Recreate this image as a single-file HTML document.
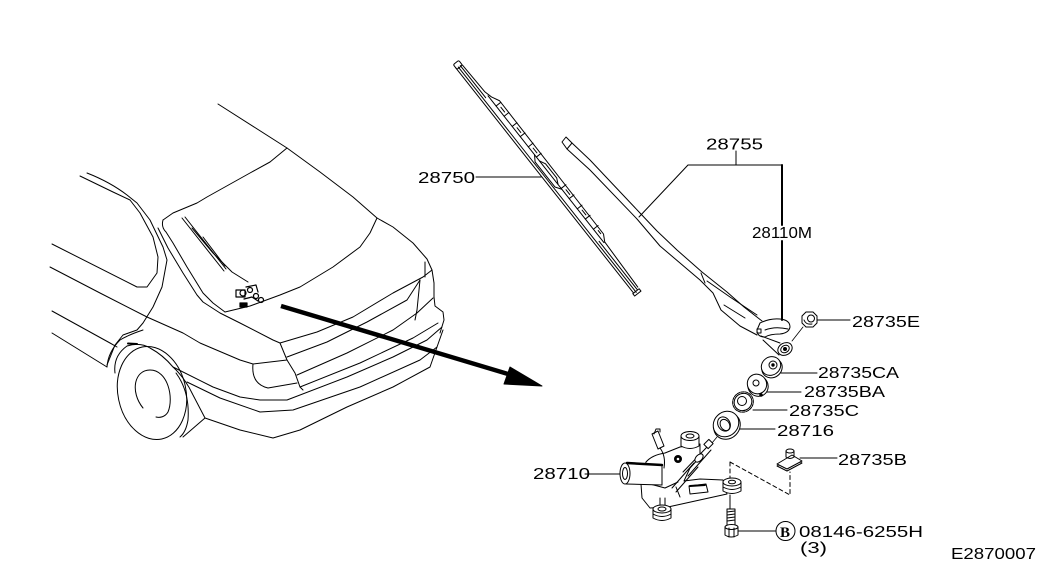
<!DOCTYPE html>
<html><head><meta charset="utf-8"><style>
html,body{margin:0;padding:0;background:#fff;}
svg{display:block;}
text{font-family:"Liberation Sans",sans-serif;font-size:16px;fill:#000;}
</style></head><body>
<svg width="1045" height="572" viewBox="0 0 1045 572" xmlns="http://www.w3.org/2000/svg">
<rect width="1045" height="572" fill="#fff"/>
<g fill="none" stroke="#000" stroke-width="1" stroke-linejoin="round" stroke-linecap="round">
<!-- ===== CAR ===== -->
<path d="M218,104 L287,148 L320,172 L353,197 L377,218 L393,227 L413,243 L427,259 L432,270 L434,283 L434,297 L435,306 L443,312 L444,320 L440,333"/>
<!-- rear window -->
<path d="M163,220 L173,213 L197,203 L207,197 L250,173 L270,162 L287,148"/>
<path d="M163,220 Q161,227 166,232 L173,243 L187,267 L203,293 L213,303 L225,312"/>
<path d="M225,312 L250,306 L280,295 L300,287 L333,267 L360,247 L370,233 L377,218"/>
<!-- outer line of window to trunk corner -->
<path d="M158,228 L168,248 L183,273 L197,295 L203,302 L220,313 L240,323 L273,340 L280,343"/>
<!-- trunk rear edges -->
<path d="M280,343 L317,332 L353,317 L393,293 L423,277 L432,270"/>
<path d="M287,357 L327,342 L367,322 L407,300 L420,280"/>
<path d="M425,262 L425,277"/>
<path d="M420,280 L417,310 L415,320"/>
<path d="M297,375 L347,353 L393,330 L417,313 L433,298"/>
<path d="M300,387 L360,363 L413,338 L438,323"/>
<path d="M280,343 L287,360 L295,373 L300,387 L303,390"/>
<!-- taillight -->
<path d="M253,364 Q251,384 268,388 L297,383"/>
<path d="M253,364 L287,360"/>
<!-- bumper -->
<path d="M173,367 L213,387 L240,397 L260,400 L287,400 L347,377 L393,357 L427,340 L442,327"/>
<path d="M187,382 L220,398 L260,412 L293,410 L360,387 L420,360 L437,347"/>
<path d="M205,418 L240,430 L273,438 L300,430 L347,407 L393,387 L430,367 L437,347 L443,330"/>
<!-- C pillar / side window -->
<path d="M87,173 Q110,182 127,195 L137,203 L150,220 L163,247 L167,260 L162,287 L153,307 L143,323 L137,330 L123,335 L115,345 L107,365"/>
<path d="M80,176 L113,192 L130,200 L140,213 L153,237 L158,257 L157,273 L147,287 L137,287 L52,244"/>
<path d="M50,267 L100,293 L147,317 L183,333 L200,343 L240,360 L253,364"/>
<path d="M52,311 L110,343 L117,347"/>
<path d="M52,333 L107,367"/>
<!-- wheel arch -->
<path d="M107,367 Q108,352 120,340 Q128,335 143,330"/>
<path d="M115,373 Q113,356 127,346 Q140,342 150,348 Q163,355 173,367"/>
<path d="M128,343.5 L137,344" stroke-width="2"/>
<!-- tire -->
<ellipse cx="152" cy="393" rx="34" ry="47" transform="rotate(-12 152 393)"/>
<path d="M143,408 C130,392 134,370 150,370 C168,370 174,398 168,412 C165,417 160,418 156,417"/>
<path d="M173,367 Q185,378 193,395 L205,418 L183,437"/>
<path d="M176,373 Q190,392 188,420 Q186,432 180,437"/>
<!-- small wiper on car -->
<path d="M182,218 L224,271"/>
<path d="M185,217 L226,269"/>
<path d="M192,228 L213,253 L232,272 L248,282"/>
<path d="M203,237 L225,266"/>
<g stroke-width="1.2">
<rect x="236" y="290" width="9" height="7"/>
<circle cx="243" cy="293" r="3"/>
<circle cx="250" cy="290" r="2.5"/>
<circle cx="256" cy="296" r="2.5"/>
<circle cx="261" cy="300" r="2.5"/>
<path d="M246,287 L256,285 L258,292"/>
<path d="M244,299 L252,297 L258,301"/>
<rect x="240" y="303" width="7" height="4" fill="#000"/>
</g>
<!-- big arrow -->
<path d="M281,306 L508,374" stroke-width="4.5" stroke-linecap="butt"/>
<path d="M510,367 L542,386 L504,384 Z" fill="#000"/>

<!-- ===== BLADE 28750 ===== -->
<g transform="translate(457,63) rotate(51.7)">
<rect x="-1" y="-3" width="6" height="7" rx="1.5"/>
<path d="M3,4 L290,4"/>
<path d="M4,1.5 L291,1.5"/>
<path d="M4,-1 L45,-1"/>
<path d="M228,-1 L290,-1"/>
<path d="M290,-3 L290,5 L293,5 L293,-3 Z"/>
<path d="M5,-3 L40,-4 L48,-6 L56,-10 L225,-9 L232,-5 L288,-3"/>
<path d="M45,-4 L232,-4"/>
<path d="M58,-10 L58,-4 M71,-10 L71,-4 M84,-10 L84,-4 M97,-10 L97,-4 M110,-10 L110,-4 M123,-10 L123,-4 M163,-10 L163,-4 M176,-10 L176,-4 M189,-10 L189,-4 M202,-10 L202,-4 M215,-10 L215,-4"/>
<path d="M62,-7 L68,-7 M88,-7 L94,-7 M114,-7 L120,-7 M167,-7 L173,-7 M193,-7 L199,-7 M219,-7 L223,-7"/>
<path d="M120,-4 L126,0 L158,0 L164,-4"/>
<path d="M128,-4 L134,-7 L152,-7 L158,-4"/>
</g>

<!-- ===== ARM 28755 ===== -->
<path d="M562,142 L566,137 L572,143 L567,149 Z"/>
<path d="M572,143 L590,160 L640,213 L657,231 L677,250 L702,272 L727,292 L744,307 L762,321"/>
<path d="M567,149 L590,170 L637,219 L660,246 L700,280 L713,293 L721,310 L740,326 L757,335"/>
<path d="M701,273 L705,283"/>
<path d="M707,281 L730,297 L757,315"/>
<path d="M724,305 L745,318"/>
<!-- head -->
<path d="M760,323 Q770,318 780,319 Q790,320 790,327 Q789,333 780,334 Q770,334 765,337 Q757,337 757,330 Z" fill="#fff"/>
<path d="M765,330 Q775,326 788,329"/>
<rect x="757" y="329" width="4" height="4"/>
<!-- link -->
<path d="M761,336 L780,343"/>
<path d="M763,340 L779,355"/>
<ellipse cx="785" cy="349" rx="7.5" ry="6" transform="rotate(-30 785 349)" fill="#fff"/>
<ellipse cx="785" cy="349" rx="4.5" ry="3.5" transform="rotate(-30 785 349)"/>
<circle cx="785" cy="349" r="1.5" fill="#000"/>
<path d="M803,327 L792,341" stroke-width="0.8"/>
<!-- nut 28735E -->
<path d="M806,312 L813,312 L817,316 L817,323 L813,327 L806,327 L802,323 L802,316 Z"/>
<circle cx="811" cy="318.5" r="3.5"/>
<path d="M804,320 Q806,325 812,324"/>

<!-- ===== LEADERS ===== -->
<path d="M476,177 L541,177"/>
<path d="M736,151 L736,165 M688,165 L782,165 M688,165 L639,217"/>
<path d="M782,165 L782,225 M782,241 L782,320" stroke-width="2"/>
<path d="M817,320 L850,320"/>
<path d="M781,373 L817,373"/>
<path d="M765,392 L801,392"/>
<path d="M753,410 L787,410"/>
<path d="M740,429 L775,429"/>
<path d="M800,458 L837,458"/>
<path d="M585,474 L620,474"/>
<path d="M738,531 L776,531"/>

<!-- ===== WASHERS ===== -->
<ellipse cx="772" cy="368" rx="10.5" ry="9.5" transform="rotate(-35 772 368)" fill="#fff"/>
<ellipse cx="771" cy="366" rx="10" ry="9" transform="rotate(-35 771 366)" fill="#fff"/>
<circle cx="773" cy="365" r="4"/>
<circle cx="773" cy="365" r="1.2" fill="#000"/>
<ellipse cx="758" cy="386" rx="10" ry="10.5" transform="rotate(-35 758 386)" fill="#fff"/>
<ellipse cx="757" cy="384" rx="9.5" ry="10" transform="rotate(-35 757 384)" fill="#fff"/>
<circle cx="756" cy="383" r="3"/>
<circle cx="761" cy="395" r="1.3" fill="#000"/>
<ellipse cx="743" cy="402" rx="10.5" ry="10" transform="rotate(-35 743 402)" stroke-dasharray="3,1"/>
<ellipse cx="743" cy="402" rx="9" ry="8.5" transform="rotate(-35 743 402)"/>
<circle cx="742" cy="401" r="4.5"/>
<ellipse cx="727" cy="426" rx="14" ry="12.5" transform="rotate(-45 727 426)" fill="#fff"/>
<ellipse cx="726" cy="424" rx="13.5" ry="12" transform="rotate(-45 726 424)" fill="#fff"/>
<ellipse cx="724" cy="424" rx="6" ry="7.5" transform="rotate(-30 724 424)"/>
<ellipse cx="725" cy="425" rx="4.5" ry="6" transform="rotate(-30 725 425)"/>
<path d="M717,437 L712,443" stroke-width="0.8"/>

<!-- ===== CLIP 28735B ===== -->
<path d="M777,466 L787,471 L802,463 L792,457 Z" fill="#fff"/>
<path d="M777,464 L787,469 L802,461 L792,455 Z" fill="#fff"/>
<path d="M786,457 L786,451 M794,457 L794,451"/>
<ellipse cx="790" cy="451" rx="4" ry="2"/>
<path d="M786,457 Q790,460 794,457"/>
<!-- dashed triangle -->
<path d="M730,462 L790,495 L790,472 M730,462 L730,478" stroke-dasharray="4,3"/>

<!-- ===== MOTOR 28710 ===== -->
<!-- housing -->
<path d="M641,484 L642,498 L650,508 L668,507 L727,494 L723,480 L700,479 L684,481 L690,468 L700,457 L700,444 L680,447 L665,453 Q652,455 646,462 Z" fill="#fff"/>
<path d="M676,487 L680,497"/>
<path d="M672,488 L694,463"/>
<path d="M676,492 L698,467"/>
<path d="M660,498 L660,507 M665,498 L665,507"/>
<path d="M650,484 L665,488 L678,482"/>
<!-- slot -->
<path d="M689,486 L706,484 L708,492 L690,494 Z"/>
<path d="M690,486 L705,485" stroke-width="2"/>
<!-- upper boss -->
<path d="M681,436 L681,446 Q690,451 699,446 L699,436" fill="#fff"/>
<ellipse cx="690" cy="436" rx="9" ry="4.5" fill="#fff"/>
<ellipse cx="690" cy="436" rx="4" ry="2"/>
<!-- lower-left boss -->
<path d="M653,509 L653,518 Q662,523 671,518 L671,509" fill="#fff"/>
<ellipse cx="662" cy="509" rx="9" ry="4" fill="#fff"/>
<ellipse cx="662" cy="509" rx="4" ry="2"/>
<path d="M653,514 Q662,519 671,514"/>
<!-- right boss -->
<path d="M723,482 L723,491 Q732,496 741,491 L741,482" fill="#fff"/>
<ellipse cx="732" cy="482" rx="9" ry="4" fill="#fff"/>
<ellipse cx="732" cy="482" rx="3.5" ry="1.8"/>
<path d="M723,487 Q732,492 741,487"/>
<!-- shaft -->
<path d="M683,472 L707,447 M688,476 L711,450"/>
<ellipse cx="699" cy="458" rx="5" ry="3" transform="rotate(-45 699 458)" fill="#fff"/>
<rect x="705" y="441" width="7" height="6" transform="rotate(-45 708.5 444)" fill="#fff"/>
<!-- gear -->
<circle cx="678" cy="459" r="3.5" fill="#000"/>
<circle cx="678" cy="459" r="1.3" fill="#fff" stroke="none"/>
<!-- connector -->
<path d="M652,434 L658,431 L664,446 L658,449 Z" fill="#fff"/>
<path d="M654,434 L656,429 L660,429 L660,432"/>
<path d="M660,448 Q666,456 664,468"/>
<!-- cylinder -->
<path d="M625,463 L662,465 L662,485 L625,484 Z" fill="#fff" stroke="none"/>
<path d="M627,463 L662,465" stroke-width="2.5"/>
<path d="M626,484 L662,485"/>
<path d="M662,465 L662,485"/>
<ellipse cx="625" cy="473.5" rx="5" ry="10.5" fill="#fff"/>
<ellipse cx="625" cy="473.5" rx="2.5" ry="6"/>
<!-- bolt -->
<path d="M730,495 L730,509"/>
<rect x="727" y="509" width="8" height="16" fill="#fff"/>
<path d="M727,512 L735,511 M727,515 L735,514 M727,518 L735,517 M727,521 L735,520"/>
<path d="M725,527 L725,535 Q731,539 738,535 L738,527" fill="#fff"/>
<ellipse cx="731.5" cy="527" rx="6.5" ry="2.5" fill="#fff"/>
<path d="M729,528 L729,537 M734,528 L734,537"/>
<circle cx="785.5" cy="531" r="9.5"/>
</g>

<!-- ===== TEXT ===== -->
<text x="418" y="183" textLength="57" lengthAdjust="spacingAndGlyphs">28750</text>
<text x="706" y="149.5" textLength="57" lengthAdjust="spacingAndGlyphs">28755</text>
<text x="752" y="238" textLength="60" lengthAdjust="spacingAndGlyphs">28110M</text>
<text x="852" y="327" textLength="68" lengthAdjust="spacingAndGlyphs">28735E</text>
<text x="818" y="378" textLength="81" lengthAdjust="spacingAndGlyphs">28735CA</text>
<text x="804" y="397" textLength="81" lengthAdjust="spacingAndGlyphs">28735BA</text>
<text x="789" y="416" textLength="70" lengthAdjust="spacingAndGlyphs">28735C</text>
<text x="777" y="436" textLength="57" lengthAdjust="spacingAndGlyphs">28716</text>
<text x="838" y="465" textLength="69" lengthAdjust="spacingAndGlyphs">28735B</text>
<text x="533" y="479" textLength="57" lengthAdjust="spacingAndGlyphs">28710</text>
<text x="799" y="537" textLength="124" lengthAdjust="spacingAndGlyphs">08146-6255H</text>
<text x="800" y="553" textLength="27" lengthAdjust="spacingAndGlyphs">(3)</text>
<text x="951" y="559" textLength="85" lengthAdjust="spacingAndGlyphs">E2870007</text>
<text x="780" y="537" style="font-family:'Liberation Serif',serif;font-size:15px;font-weight:bold">B</text>
</svg>
</body></html>
